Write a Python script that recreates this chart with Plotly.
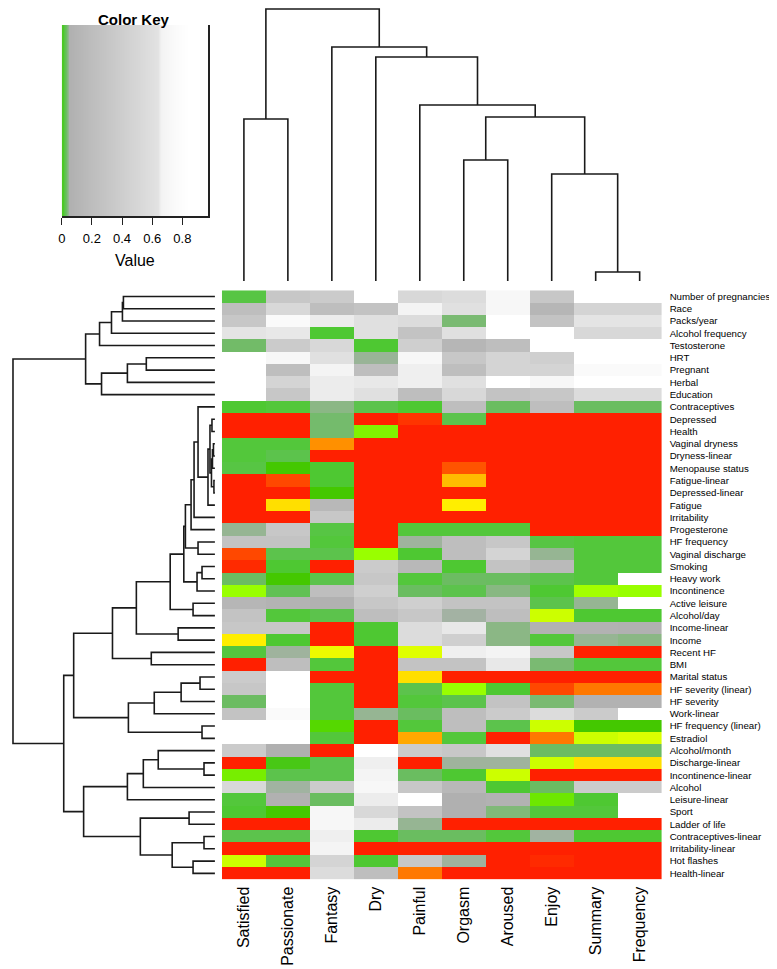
import numpy as np
import plotly.graph_objects as go

# ---------------- data ----------------
col_labels = ["Satisfied", "Passionate", "Fantasy", "Dry", "Painful",
              "Orgasm", "Aroused", "Enjoy", "Summary", "Frequency"]

row_labels = [
    "Number of pregnancies", "Race", "Packs/year", "Alcohol frequency", "Testosterone",
    "HRT", "Pregnant", "Herbal", "Education", "Contraceptives",
    "Depressed", "Health", "Vaginal dryness", "Dryness-linear", "Menopause status",
    "Fatigue-linear", "Depressed-linear", "Fatigue", "Irritability", "Progesterone",
    "HF frequency", "Vaginal discharge", "Smoking", "Heavy work", "Incontinence",
    "Active leisure", "Alcohol/day", "Income-linear", "Income", "Recent HF",
    "BMI", "Marital status", "HF severity (linear)", "HF severity", "Work-linear",
    "HF frequency (linear)", "Estradiol", "Alcohol/month", "Discharge-linear", "Incontinence-linear",
    "Alcohol", "Leisure-linear", "Sport", "Ladder of life", "Contraceptives-linear",
    "Irritability-linear", "Hot flashes", "Health-linear",
]

# p-values (rows x columns: Satisfied .. Frequency)
p_values = [
    [0.018, 0.32, 0.37, 0.9, 0.52, 0.566, 0.72, 0.32, 0.9, 0.9],
    [0.22, 0.52, 0.22, 0.27, 0.68, 0.615, 0.72, 0.124, 0.47, 0.47],
    [0.32, 0.75, 0.652, 0.615, 0.566, 0.035, 0.9, 0.27, 0.642, 0.642],
    [0.642, 0.648, 0.012, 0.615, 0.27, 0.615, 0.9, 0.9, 0.52, 0.52],
    [0.032, 0.37, 0.52, 0.012, 0.42, 0.124, 0.22, 0.9, 0.9, 0.9],
    [0.9, 0.72, 0.615, 0.046, 0.72, 0.32, 0.47, 0.42, 0.9, 0.9],
    [0.9, 0.22, 0.68, 0.22, 0.656, 0.22, 0.47, 0.47, 0.75, 0.75],
    [0.9, 0.47, 0.652, 0.648, 0.656, 0.615, 0.9, 0.72, 0.9, 0.9],
    [0.9, 0.32, 0.652, 0.615, 0.22, 0.52, 0.27, 0.32, 0.566, 0.566],
    [0.012, 0.015, 0.041, 0.021, 0.012, 0.22, 0.029, 0.22, 0.029, 0.029],
    [0.0003, 0.0003, 0.033, 0.0003, 0.0008, 0.021, 0.0003, 0.0003, 0.0003, 0.0003],
    [0.0003, 0.0003, 0.033, 0.0053, 0.0003, 0.0003, 0.0003, 0.0003, 0.0003, 0.0003],
    [0.015, 0.015, 0.0016, 0.0003, 0.0003, 0.0003, 0.0003, 0.0003, 0.0003, 0.0003],
    [0.015, 0.021, 0.0003, 0.0003, 0.0003, 0.0003, 0.0003, 0.0003, 0.0003, 0.0003],
    [0.018, 0.0085, 0.012, 0.0003, 0.0003, 0.0011, 0.0003, 0.0003, 0.0003, 0.0003],
    [0.0003, 0.001, 0.012, 0.0003, 0.0003, 0.002, 0.0003, 0.0003, 0.0003, 0.0003],
    [0.0003, 0.0003, 0.0085, 0.0003, 0.0003, 0.0003, 0.0003, 0.0003, 0.0003, 0.0003],
    [0.0003, 0.0024, 0.14, 0.0003, 0.0003, 0.0026, 0.0003, 0.0003, 0.0003, 0.0003],
    [0.0003, 0.0003, 0.32, 0.0003, 0.0003, 0.0003, 0.0003, 0.0003, 0.0003, 0.0003],
    [0.045, 0.32, 0.018, 0.0003, 0.015, 0.015, 0.015, 0.0003, 0.0004, 0.0004],
    [0.27, 0.27, 0.015, 0.0003, 0.048, 0.22, 0.32, 0.018, 0.015, 0.015],
    [0.001, 0.021, 0.021, 0.0046, 0.012, 0.22, 0.47, 0.045, 0.015, 0.015],
    [0.0007, 0.012, 0.0003, 0.37, 0.14, 0.012, 0.27, 0.173, 0.015, 0.015],
    [0.03, 0.0085, 0.021, 0.32, 0.015, 0.03, 0.029, 0.021, 0.015, 0.9],
    [0.0046, 0.024, 0.22, 0.42, 0.029, 0.021, 0.04, 0.012, 0.0044, 0.0046],
    [0.124, 0.09, 0.06, 0.32, 0.42, 0.27, 0.27, 0.021, 0.045, 0.9],
    [0.27, 0.015, 0.021, 0.22, 0.32, 0.0495, 0.22, 0.0036, 0.012, 0.012],
    [0.32, 0.32, 0.0003, 0.012, 0.566, 0.648, 0.041, 0.075, 0.075, 0.06],
    [0.0026, 0.012, 0.0003, 0.012, 0.566, 0.42, 0.041, 0.015, 0.045, 0.041],
    [0.016, 0.048, 0.0029, 0.0003, 0.0032, 0.656, 0.68, 0.32, 0.0003, 0.0003],
    [0.0003, 0.22, 0.015, 0.0003, 0.27, 0.27, 0.648, 0.035, 0.015, 0.015],
    [0.37, 0.9, 0.0003, 0.0003, 0.0024, 0.0003, 0.0003, 0.0003, 0.0003, 0.0003],
    [0.32, 0.9, 0.015, 0.0003, 0.021, 0.0046, 0.012, 0.001, 0.0014, 0.0014],
    [0.03, 0.9, 0.015, 0.0003, 0.015, 0.021, 0.27, 0.035, 0.075, 0.075],
    [0.27, 0.75, 0.015, 0.045, 0.029, 0.22, 0.37, 0.566, 0.37, 0.9],
    [0.9, 0.9, 0.007, 0.0003, 0.015, 0.22, 0.021, 0.0036, 0.0085, 0.0085],
    [0.9, 0.9, 0.015, 0.0003, 0.0018, 0.015, 0.0003, 0.0014, 0.0036, 0.0033],
    [0.37, 0.052, 0.0003, 0.9, 0.37, 0.32, 0.615, 0.03, 0.03, 0.03],
    [0.0003, 0.01, 0.021, 0.656, 0.0003, 0.048, 0.048, 0.0036, 0.0024, 0.0024],
    [0.0056, 0.021, 0.021, 0.68, 0.029, 0.012, 0.0036, 0.0003, 0.0003, 0.0003],
    [0.52, 0.049, 0.37, 0.72, 0.32, 0.14, 0.012, 0.03, 0.37, 0.37],
    [0.015, 0.06, 0.029, 0.652, 0.9, 0.052, 0.075, 0.006, 0.012, 0.9],
    [0.012, 0.0085, 0.72, 0.52, 0.27, 0.052, 0.037, 0.015, 0.015, 0.9],
    [0.0003, 0.0003, 0.72, 0.652, 0.045, 0.0003, 0.0003, 0.0003, 0.0003, 0.0003],
    [0.021, 0.021, 0.656, 0.012, 0.029, 0.029, 0.015, 0.049, 0.012, 0.012],
    [0.0003, 0.0003, 0.68, 0.0003, 0.0003, 0.0003, 0.0003, 0.0003, 0.0003, 0.0003],
    [0.0036, 0.015, 0.47, 0.012, 0.32, 0.048, 0.0003, 0.0007, 0.0003, 0.0003],
    [0.0003, 0.0003, 0.566, 0.22, 0.0014, 0.0003, 0.0003, 0.0003, 0.0003, 0.0003],
]

# column dendrogram: [left, right, merge height]
col_tree = [[0, 1, 162],
            [2, [3, [4, [[5, 6, 121], [7, [8, 9, 9], 107], 164], 176], 224], 234],
            272]

# row dendrogram
row_top = [[[[[0, 1, 92], 2, 93], 3, 104], 4, 116], [[[5, 6, 69], 7, 88], 8, 114], 130]
row_dense = [[10, 11, 3], [[[12, 13, 1.5], 14, 2.5], [15, 16, 1], 3.5], 5]
row_a = [[[[9, [row_dense, 17, 7], 17], 18, 21], 19, 24], [20, 21, 17], 29.7]
row_b = [[row_a, [[22, 23, 13], 24, 18], 31.3], [25, 26, 22], 45]
row_c = [[[row_b, [27, 28, 37], 79], [29, 30, 64], 103],
         [[[[31, 32, 15], 33, 34], 34, 61], [35, 36, 13], 87], 142]
row_d = [[[[37, [38, 39, 11], 57], 40, 72], 41, 88],
         [[42, 43, 26], [[44, 45, 11], [46, 47, 22], 43], 75], 132]
row_tree = [row_top, [row_c, row_d, 152], 203]

key_ticks = [0, 0.2, 0.4, 0.6, 0.8]
key_max = 0.97

# ---------------- styling ----------------
W, H = 777, 969
FONT = "Liberation Sans, Arial, Helvetica, sans-serif"
colorscale = [
    [0.0, "#ff2000"], [0.0006, "#ff2000"], [0.001, "#ff4800"], [0.0014, "#ff7800"],
    [0.0018, "#ffa800"], [0.0022, "#ffd000"], [0.0026, "#ffee00"], [0.003, "#e8ff00"],
    [0.0036, "#ccff00"], [0.0046, "#99ff00"], [0.0056, "#77ee00"], [0.007, "#55d800"],
    [0.0085, "#44c800"], [0.012, "#4ec832"], [0.02, "#5ac44a"], [0.03, "#6cbc62"],
    [0.04, "#88b882"], [0.0499, "#a4b2a4"], [0.05, "#b0b0b0"], [0.64, "#e2e2e2"],
    [0.66, "#f2f2f2"], [0.75, "#fafafa"], [0.85, "#ffffff"], [1.0, "#ffffff"],
]


def dendro(node, segs):
    if isinstance(node, int):
        return float(node), 0.0
    left, right, h = node
    pl, hl = dendro(left, segs)
    pr, hr = dendro(right, segs)
    segs.append(([pl, pl, pr, pr], [hl, h, h, hr]))
    return (pl + pr) / 2, h


def seg_xy(segs, swap=False):
    xs, ys = [], []
    for p, h in segs:
        a, b = (h, p) if swap else (p, h)
        xs += a + [None]
        ys += b + [None]
    return xs, ys


def fx(px):
    return px / W


def fy(py):
    return 1 - py / H


n_rows, n_cols = len(row_labels), len(col_labels)
hm_x = [fx(211), fx(653)]
hm_y = [fy(871.5), fy(282.3)]

fig = go.Figure()

# main heatmap
fig.add_trace(go.Heatmap(
    z=p_values, x=list(range(n_cols)), y=list(range(n_rows)),
    colorscale=colorscale, zmin=0, zmax=1, showscale=False,
    xaxis="x", yaxis="y", hoverinfo="skip"))

# top dendrogram
segs = []
dendro(col_tree, segs)
xs, ys = seg_xy(segs)
fig.add_trace(go.Scatter(x=xs, y=ys, mode="lines", xaxis="x2", yaxis="y2",
                         line=dict(color="#1a1a1a", width=1.6), hoverinfo="skip",
                         showlegend=False))

# left dendrogram
segs = []
dendro(row_tree, segs)
xs, ys = seg_xy(segs, swap=True)
fig.add_trace(go.Scatter(x=xs, y=ys, mode="lines", xaxis="x3", yaxis="y3",
                         line=dict(color="#1a1a1a", width=1.6), hoverinfo="skip",
                         showlegend=False))

# color key
edges = np.linspace(0, key_max, 301)
mids = np.maximum((edges[:-1] + edges[1:]) / 2, 0.011)
fig.add_trace(go.Heatmap(z=[mids.tolist()], x=edges.tolist(), y=[0, 1],
                         colorscale=colorscale, zmin=0, zmax=1, showscale=False,
                         xaxis="x4", yaxis="y4", hoverinfo="skip"))

hidden = dict(visible=False, showgrid=False, zeroline=False)
fig.update_layout(
    width=W, height=H, margin=dict(l=0, r=0, t=0, b=0),
    paper_bgcolor="white", plot_bgcolor="white", showlegend=False,
    font=dict(family=FONT, color="black"),
    xaxis=dict(domain=hm_x, range=[-0.5, n_cols - 0.5], anchor="y",
               tickvals=list(range(n_cols)), ticktext=col_labels, tickangle=-90,
               ticks="", showgrid=False, zeroline=False, showline=False,
               tickfont=dict(size=16, family=FONT), ticklabelstandoff=3),
    yaxis=dict(domain=hm_y, range=[n_rows - 0.5, -0.5], anchor="x", side="right",
               tickvals=list(range(n_rows)), ticktext=row_labels,
               ticks="", showgrid=False, zeroline=False, showline=False,
               tickfont=dict(size=9.7, family=FONT), ticklabelstandoff=7),
    xaxis2=dict(domain=hm_x, range=[-0.5, n_cols - 0.5], anchor="y2", **hidden),
    yaxis2=dict(domain=[fy(273), 1], range=[0, 273], anchor="x2", **hidden),
    xaxis3=dict(domain=[0, fx(204)], range=[204, 0], anchor="y3", **hidden),
    yaxis3=dict(domain=hm_y, range=[n_rows - 0.5, -0.5], anchor="x3", **hidden),
    xaxis4=dict(domain=[fx(50), fx(197)], range=[0, key_max], anchor="y4",
                tickvals=key_ticks, ticktext=["0", "0.2", "0.4", "0.6", "0.8"],
                ticks="outside", ticklen=7, tickwidth=1.3, tickcolor="#222",
                showline=True, linecolor="#222", linewidth=1.5, ticklabelstandoff=3,
                showgrid=False, zeroline=False, tickfont=dict(size=13, family=FONT)),
    yaxis4=dict(domain=[fy(208), fy(17)], range=[0, 1], anchor="x4", side="right",
                showline=True, linecolor="#222", linewidth=1.5, ticks="",
                showticklabels=False, showgrid=False, zeroline=False),
    annotations=[
        dict(text="<b>Color Key</b>", x=fx(123), y=fy(1), xref="paper", yref="paper",
             showarrow=False, font=dict(size=15, family=FONT), xanchor="center",
             yanchor="top"),
        dict(text="Value", x=fx(123.5), y=fy(252), xref="paper", yref="paper",
             showarrow=False, font=dict(size=16, family=FONT), xanchor="center",
             yanchor="middle"),
    ],
)

fig.write_html("out.html")
